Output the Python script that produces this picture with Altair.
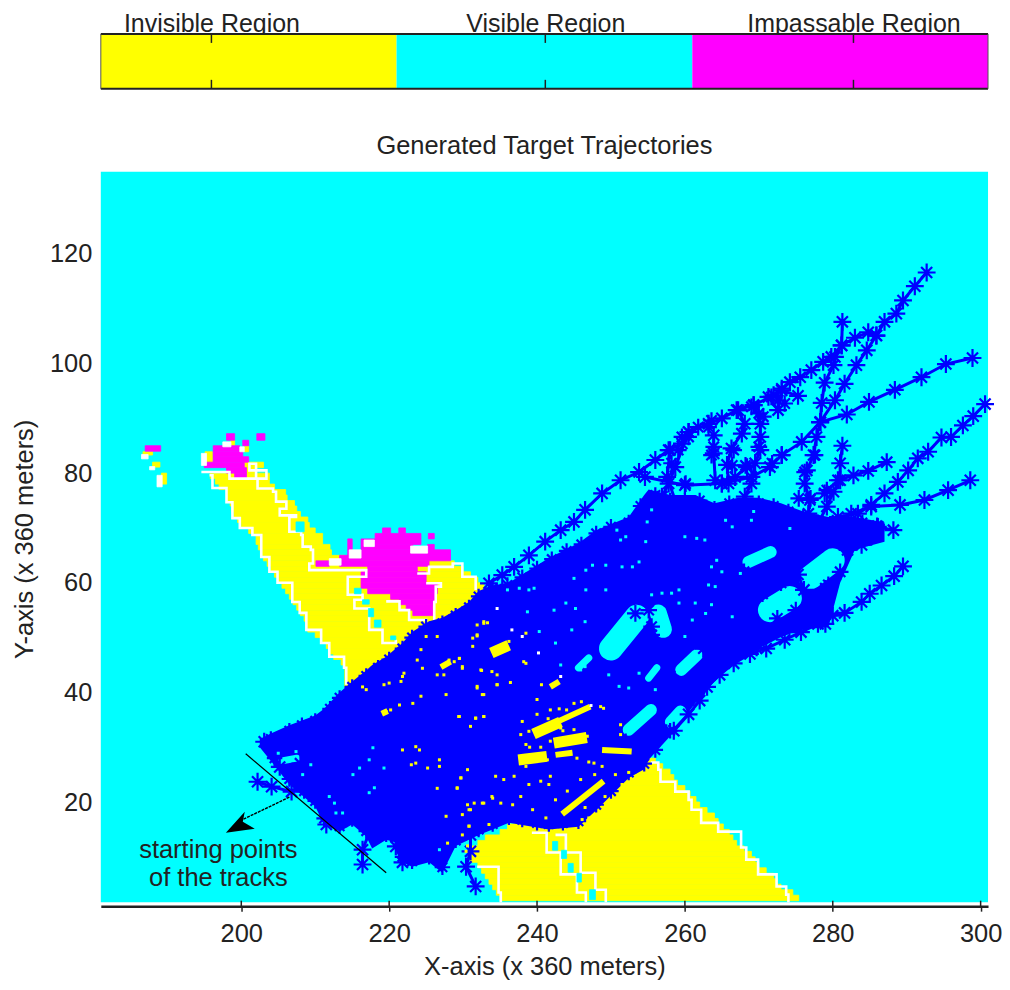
import altair as alt
import pandas as pd

FONT = "Liberation Sans"
INK = "#222222"
CYAN = "#00ffff"
YELLOW = "#ffff00"
MAGENTA = "#ff00ff"
BLUE = "#0000ff"

# colour bar
REGION_NAMES = ["Invisible Region", "Visible Region", "Impassable Region"]
REGION_COLORS = [YELLOW, CYAN, MAGENTA]
REGION_START = [0, 1, 2]
REGION_STOP = [1, 2, 3]
REGION_TICKS = [0.374, 1.503, 2.545]

# axes
X_TICKS = [200, 220, 240, 260, 280, 300]
Y_TICKS = [20, 40, 60, 80, 100, 120]

# yellow cells: row (bottom y), left x, right x
ARM_ROWS = [
    (81, 200.4, 203), (80, 200.7, 202), (79, 195.8, 203.8), (78, 196.5, 203.8), (77, 197, 204.5),
    (76, 198, 206), (75, 198, 206.2), (74, 198.5, 207.2), (73, 198.7, 207.5), (72, 199, 208),
    (71, 199.5, 209), (70, 200, 209.2), (69, 201, 210), (68, 202, 211), (67, 202, 211),
    (66, 202.3, 212), (65, 202.7, 212.2), (64, 203, 214), (63, 203.5, 228.8), (62, 204, 230),
    (61, 204.5, 231), (60, 205, 232), (59, 205.5, 232.8), (58, 206, 233.5), (57, 206.5, 234),
    (56, 207, 235), (55, 207.5, 235), (54, 208, 235), (53, 208.5, 235), (52, 208.8, 235),
    (51, 209, 235), (50, 210, 235), (49, 211, 235), (48, 211.5, 235), (47, 212, 235),
    (46, 212.5, 235), (45, 213.5, 235), (44, 214, 235), (43, 214, 235), (42, 214, 235), (41, 214, 235),
]
SOUTH_ROWS = [
    (28, 254, 255), (27, 250, 256), (26, 248, 257), (25, 246, 258), (24, 244.5, 258.5),
    (23, 244, 259), (22, 243, 260), (21, 242, 260.7), (20, 241, 261.5), (19, 240, 262),
    (18, 239.5, 263), (17, 238.5, 264), (16, 237, 264.5), (15, 236, 265.2), (14, 235, 266),
    (13, 233, 266.5), (12, 232, 267), (11, 231, 268), (10, 231, 269), (9, 231, 269.5),
    (8, 232, 270), (7, 232.5, 271), (6, 233, 272), (5, 233.5, 272.5), (4, 234, 273),
    (3, 234.5, 274.6), (2, 235, 275.4),
]
# small cells: x0, x1, y0, y1
YELLOW_CELLS = [
    (186.7, 188, 83.3, 83.9), (188, 189, 81.1, 82), (189.2, 189.9, 78, 80), (195.1, 196.1, 82, 83.9),
    (198.6, 199.1, 85, 86), (200.4, 201, 83.9, 84.9), (220.2, 221.1, 56.9, 57.9),
]
MAGENTA_CELLS = [
    (198, 199.1, 86, 87.2), (202.1, 203.2, 86, 87.2), (200.2, 201, 85, 86), (187, 189.1, 84, 85),
    (196.2, 199.8, 84, 85), (196.2, 200.2, 83, 84), (196.2, 201, 82, 83), (195, 200.4, 81, 82),
    (198, 200.7, 80, 81), (199.1, 200.7, 79, 80),
    (219.1, 220.2, 69, 70), (221.3, 222.2, 69, 70), (218.1, 224.3, 68, 69), (225.3, 226.1, 68, 69),
    (214.4, 215, 67, 68), (216.2, 224.3, 67, 68), (214.4, 215, 66, 67), (216.2, 223.2, 66, 67),
    (225.2, 226.1, 66, 67), (214.4, 215, 65, 66), (216.2, 228.3, 65, 66), (213.3, 228.3, 64, 65),
    (210.1, 211.9, 63, 64), (213.3, 225.4, 63, 64), (217.1, 223.8, 62, 63), (216.2, 225, 61, 62),
    (216.2, 225, 60, 61), (216.2, 226.5, 59, 60), (217.1, 226.5, 58, 59), (220.2, 226.3, 57, 58),
    (221.4, 226.1, 56, 57), (222.3, 225.9, 55, 56), (223.2, 225.9, 54, 55),
]
WHITE_CELLS = [
    (186.5, 187.4, 82.6, 83.4), (187.6, 188.3, 80.6, 81.2), (188.6, 189.3, 77.5, 79.6), (194.6, 195.3, 81.4, 83.6),
    (197.5, 198.6, 84.8, 85.7), (199.8, 200.4, 83.9, 84.8), (211.9, 213.5, 63.2, 64.4), (222.9, 225.2, 65.4, 66.7),
    (216.6, 218, 66.6, 67.8), (214.6, 216.2, 64.5, 66),
]
CYAN_CELLS = [
    (207.4, 208.5, 69.3, 71.1), (217.2, 217.9, 53.8, 55.3), (218, 218.9, 51.9, 53.2), (216.4, 217.3, 56.1, 56.9),
    (220.2, 220.9, 49.6, 50.3), (215.3, 216.2, 58, 59), (242.1, 242.8, 11.2, 12.8), (243.3, 244, 9.7, 11.2),
    (244.2, 244.9, 7.2, 8.8), (245.4, 246, 5.4, 7), (247.1, 247.9, 2.2, 4),
]

# white outlines of the regions
WHITE_LINES = {
    "west": [(195.7, 79.6), (196.1, 77.3), (198, 76.5), (198, 74.7), (198.8, 71.8), (199.8, 70), (201.5, 68.7),
             (202.7, 64.7), (203.8, 62), (204.9, 60), (206.9, 56.5), (207.9, 54.5), (208.8, 51.4), (210.8, 49),
             (211.9, 46.5), (213.9, 44.5), (214.2, 41.4)],
    "inner": [(194.6, 80.2), (198.4, 79), (200.4, 79), (202, 81.7), (201.1, 80.5), (203.4, 79), (202.2, 77.2),
              (204.3, 76.6), (204.7, 74.8), (206.1, 73.5), (205.2, 72.3), (207.4, 72), (206.5, 69.3), (208.1, 68.7),
              (208.3, 66.6), (209.4, 66), (209.7, 63.5), (209.2, 62.3), (216.9, 62.3), (216.9, 61.1), (214.4, 59.9),
              (214.4, 57.8), (216.4, 56.9), (215.3, 55.3), (217.3, 53.2), (217.3, 51.4), (219.1, 49), (220.9, 49.6)],
    "under": [(219.6, 56.6), (221.4, 55), (222.7, 53.2), (225, 52.6)],
    "east": [(223.8, 61.7), (225.4, 62.9), (228.6, 63.5), (229.9, 61.1), (231.7, 58.7)],
    "notch": [(225, 59.9), (227, 59.3), (226.3, 56.5), (226.1, 53.2)],
    "southeast": [(255.4, 27.2), (256.4, 25.9), (256.7, 23.7), (258.7, 21.9), (260.5, 20.4), (260.9, 18.6),
                  (262.2, 16.2), (264.5, 14.6), (267.6, 11.7), (268.3, 9.5), (269.9, 6.8), (272.4, 4.6),
                  (273.7, 3.1), (274, 1.7)],
    "chain_left": [(239.3, 14.4), (241.3, 10.8), (243.2, 6.8), (245.4, 3.5), (246.6, 1.7)],
    "chain_right": [(242.5, 14), (243.9, 10.8), (245.9, 7.1), (247.9, 4), (249.3, 1.7)],
    "southwest": [(231.9, 8.2), (234.8, 3.5), (235.1, 1.7)],
}

# solid mass of overlapping tracks: x, upper y, lower y
MASS_X = [202.5, 204, 206.5, 210, 211.2, 213.3, 215, 216.9, 217.7, 219.6, 220.9, 221.8, 223.1, 225.4, 227.2, 229,
          230.8, 232.1, 234, 236.2, 238, 241.6, 245.6, 248, 252.4, 254.5, 255.1, 258, 261.4, 264, 267.2, 270, 273,
          276, 279.4, 281, 283, 287]
MASS_TOP = [31.5, 32.5, 34, 35.8, 37, 40, 42, 44, 45, 46.5, 48, 49, 51, 53, 53.6, 55,
            56.5, 58.5, 59.5, 60, 61.5, 64.5, 67.2, 69.6, 72, 76, 77, 76, 76, 74.5, 75.5, 75.5, 74.5,
            73, 72, 72, 72, 71]
MASS_BOTTOM = [30, 27.5, 23.2, 19.2, 15.9, 14.6, 15.9, 13.7, 11.5, 13.1, 12.6, 9, 8.2, 9, 7.1, 12,
               13.1, 14, 15, 16.2, 15.8, 15, 15.5, 18.5, 24.4, 26, 27.7, 32, 38, 42, 45.9, 48, 50.1,
               51.5, 51.9, 60, 66, 67.5]

# gaps in the mass: x0, y0, x1, y1
HUGE_GAPS = [(250, 48, 253.5, 53.8), (277, 61, 280, 64.1), (271.5, 55, 274.2, 57.2)]
WIDE_GAPS = [(256.4, 54.5, 257.1, 51.5)]
MEDIUM_GAPS = [(259.5, 44.1, 261.6, 46.8), (252.4, 33.2, 255.4, 36.8), (258.1, 34.6, 259.4, 36.5),
               (268.6, 63.8, 271.6, 65.6)]
NARROW_GAPS = [(255.1, 42.6, 256.2, 44.5), (245.6, 44.5, 247, 46.3), (205.5, 27.5, 207.5, 28)]

# yellow bands showing through the mass: x0, y0, x1, y1
THICK_BANDS = [(240.2, 32.8, 242.5, 34.2), (243, 30.9, 246, 31.6), (238.2, 27.8, 240.6, 28.2), (234.5, 47.6, 235.5, 48.2)]
THIN_BANDS = [(243, 34.8, 247.2, 37.4), (242.5, 28.6, 244.8, 29), (241.8, 41, 243, 42), (248.8, 29.5, 252.8, 29.2),
              (243.4, 17.8, 249, 23.8), (227, 44.6, 228.3, 45.6), (219, 36.1, 219.8, 36.6)]

# tracks
TRACKS = {
    "a": [(292.7, 116.6), (291.1, 114.1), (289.5, 111.5), (288.6, 109.1), (287, 107.6), (285.9, 105.1), (284.8, 105.7),
          (283, 104.7), (281.2, 103.3), (279.8, 101.2), (278.7, 100.3), (277.1, 98.8), (275.6, 97.5), (274.2, 96.6),
          (273.1, 95.4), (272, 94.2), (269.3, 92.4), (267, 91.5), (265, 90), (263.2, 89), (260.5, 87.5), (259.6, 85.4),
          (257.8, 84.2), (256, 82.4), (253.8, 80.2), (251.3, 78.7), (248.8, 76.3), (246.5, 73.3), (245, 71.1),
          (243.2, 69.6), (241.1, 67.5), (238.9, 65), (236.9, 62.9), (235.3, 61.4), (233.5, 59.9)],
    "b": [(281.3, 107.6), (281.2, 103.3), (280.3, 101.2), (280.1, 99.7), (278.9, 96.5), (278.5, 92.8), (278.3, 89.3),
          (277.8, 86.6), (277.4, 83.3), (276.5, 80.5), (276.2, 78.1), (276.9, 75.1), (276.7, 72.6)],
    "c": [(298.9, 101), (295.3, 99.9), (292, 97.5), (288.4, 95.2), (284.9, 93), (281.9, 90.7), (278.3, 89.3),
          (275.8, 85.7), (273.1, 83.3), (271.5, 81.1), (269, 79.3), (265, 78.1), (260, 77.8), (254.6, 79.3)],
    "d": [(300.6, 92.6), (299, 90.4), (297.6, 88.7), (296, 86.6), (294.7, 86.5), (292.9, 83.9), (291.5, 82.7),
          (290.2, 80.5), (288.8, 78.4), (287, 76.3), (285.2, 74.2), (283.4, 72.6), (280.7, 72), (278.5, 70.2)],
    "e": [(298.6, 78.7), (295.6, 76.9), (292.4, 75.1), (289.1, 74.2), (285.2, 73.9), (282.5, 72.6)],
    "f": [(288.2, 69.6), (286.1, 70.2), (285.2, 68.4), (283.9, 66.9), (282, 66)],
    "g": [(281.3, 85), (281, 81.8), (281, 78.7), (280.1, 76.6), (279.2, 73.9), (278, 70.8)],
    "h": [(287.3, 82), (284.8, 80.4), (282.8, 79.6), (280.7, 78.7), (278.9, 76.3)],
    "i": [(285.9, 105.1), (284.6, 102.4), (283.2, 99.7), (281.6, 96.3), (280.3, 93.3), (278.3, 89.3)],
    "k": [(275.3, 94.1), (273.1, 95.1), (272.6, 91.5), (271.3, 93.9)],
    "l": [(269.3, 92.4), (270.2, 89), (270.2, 86.6), (270.2, 84.2), (269.5, 81.8), (269, 78.1), (268.1, 75.7)],
    "m": [(267.2, 91.5), (268.1, 89), (267.7, 87.2), (266.3, 84.5), (265.7, 81.5), (265.9, 78.1)],
    "n": [(263.9, 86.9), (263.9, 83.6), (264.1, 78.7)],
    "o": [(268.4, 81.1), (266.8, 79.3), (265, 78.1)],
    "r": [(258, 84.2), (257.6, 79.3), (258.9, 74.2)],
    "s": [(260.5, 87.5), (258.7, 81.1), (257.8, 78.1), (256.9, 75.7)],
    "p": [(289.5, 63), (288.3, 61.2), (286.6, 59.5), (285, 58), (283.9, 56.5), (281.6, 54.5), (280, 54), (278, 52.5),
          (275.7, 51), (273.5, 49.6), (271, 48), (268.8, 47), (266.6, 45.3), (264.7, 43.2), (263, 41), (262, 38.5),
          (260.5, 36), (258.5, 33)],
    "q": [(279, 52.5), (277.3, 55.5), (276.1, 58.7), (275.3, 61.5), (274, 64)],
    "start_1": [(202.2, 23.7), (204.1, 22.8), (206.8, 21.9), (209, 23)],
    "start_2": [(203.1, 31), (205.2, 26.4), (208, 27)],
    "start_3": [(211.5, 15.9), (213, 17)],
    "start_4": [(216.4, 8.6), (216.4, 11.3), (217.5, 15)],
    "start_5": [(221.8, 9), (220.9, 11.9), (222, 15)],
    "start_6": [(231.7, 4.6), (230.4, 8.2), (231, 11), (231, 14)],
}
EDGE_TOP = [(204, 31.5), (206.5, 33), (208.2, 34), (210, 34.8), (212, 37), (213.3, 39), (215, 41), (216.9, 43), (218.5, 44.5),
            (220, 46), (221.8, 48), (223.1, 50), (225, 52), (227.2, 52.6), (229, 54), (230.8, 55.5), (232.1, 57.5),
            (234, 59), (236, 59.6), (238, 61), (240, 62.6), (242, 64.3), (244, 65.8), (246, 67), (248, 69), (250, 70.2),
            (252.4, 71), (254, 74), (256, 76), (258, 75), (260, 75), (262, 75), (264, 73.5), (266, 74.5), (268, 74.5),
            (270, 74.5), (272, 74), (274, 73), (276, 72), (278, 71), (280, 71), (282, 71), (284, 71), (286, 70.5)]
EDGE_BOTTOM = [(204.5, 28), (206.5, 24.2), (208.5, 22), (210, 20.2), (211.2, 17), (213.3, 15.6), (215, 16.9), (216.9, 14.7),
               (219.6, 14.1), (220.9, 13.6), (221.8, 10), (223.1, 9.2), (225.4, 10), (227.2, 8.1), (229, 13),
               (232.1, 15), (234, 16), (236.2, 17.2), (238, 16.8), (240, 16.2), (241.6, 16), (243.5, 16.2), (245.6, 16.5),
               (248, 19.5), (250, 22), (252.4, 25.4), (254.5, 27), (256, 29.5), (258, 33)]
LOOSE_STARS = [(263.9, 84.8), (266.6, 84.2), (270, 84.8), (273.1, 83.3), (277.6, 83.3), (276.2, 80.2), (279.2, 76.9), (277, 75.4),
               (275.4, 75.4), (260.1, 78.1), (258.9, 74.5), (266.4, 81.4), (268.2, 81.4), (271.8, 81.8), (263.6, 83.3),
               (276.7, 55.9), (279.4, 59.6), (269.7, 48.1), (266.4, 49), (255.5, 52), (255.1, 55),
               (253.3, 54.4), (248.3, 52), (250.5, 56.2), (253, 47), (255.5, 50.5), (275.5, 64), (278, 66.5), (281, 62),
               (279, 59), (270.5, 58), (273, 60), (275, 55), (272.5, 53.5), (258.5, 48.5), (262.5, 48), (258, 43), (262, 43.5),
               (251, 38), (256.5, 34), (252, 31), (257, 38.5), (260.5, 38.5), (268, 62), (272.5, 63.5), (270, 67.5),
               (260.5, 86.6), (261.8, 88.4), (263.2, 88.4), (263.6, 89.6), (259.6, 86.6), (259.1, 84.2), (258.2, 81.8),
               (272.6, 93.3), (273.5, 92.7), (271.7, 93.9), (270, 90.9), (270.6, 90.3), (269, 92.1)]

YELLOW_SPECKS = [
    (231.3, 48.4), (232.8, 52.6), (231.9, 50.5), (233.3, 52.7), (236.2, 49.3), (238.5, 45.3), (238.5, 50.8), (238.2, 45.6),
    (233.9, 43.8), (234.6, 43.2), (232.5, 44), (228.8, 45.6), (229.5, 46.2), (229.9, 44.7), (231.9, 40.8), (234.6, 41.4),
    (236.4, 41.8), (232.8, 39.6), (240.6, 41.4), (240, 38.7), (241.8, 36.8), (238, 34.7), (231.7, 35.3), (232.8, 35.6),
    (229.4, 35.6), (231, 33.8), (238.9, 32.9), (237.8, 32.3), (238.5, 30.5), (241.8, 31.1), (248.6, 37.4), (249, 37.1),
    (243.2, 33.5), (251.3, 34.1), (251.3, 32.3), (247.7, 27.1), (247, 27.3), (245.4, 28), (241.4, 27.7), (238.5, 26.5),
    (230.6, 25.9), (234.4, 24.7), (235.5, 24.1), (236.9, 24.7), (229.7, 24.4), (229.2, 22.6), (238.9, 23.2), (240.5, 23.8),
    (241.8, 24.7), (241.6, 23.2), (233.9, 21), (232.6, 19.8), (235.1, 19.8), (236.7, 19.5), (230.8, 18.6), (239.4, 18.6),
    (237.8, 21), (230.8, 15.6), (233.5, 15.9), (229.9, 14), (244.1, 22), (245.9, 24.1), (242.5, 20.4), (252.4, 25.4),
    (251.5, 23.2), (250.6, 25), (247, 17.1), (246.1, 16.8), (241.2, 17.1), (230.6, 12), (230.4, 11),
    (231.9, 52.3), (232.8, 52.9), (231.3, 49.9), (231.9, 50.3), (225, 50.2), (226.5, 50.2), (224.3, 47.8), (223.8, 45.9),
    (224.5, 44.4), (228.1, 45.9), (229.5, 46.2), (229.9, 44.4), (232.4, 44.1), (226.5, 43.2), (227.4, 43.2), (221.8, 42.9),
    (222, 43.5), (219.3, 41.4), (220, 41.7), (216.9, 40.5), (216.4, 41), (221.6, 42), (231.9, 41.1), (234.6, 41.4),
    (232.6, 39.6), (227.7, 39.6), (224.3, 39.3), (221.4, 37.7), (223.2, 38), (219.6, 36.5), (220.2, 36.8), (229.5, 35.6),
    (231.7, 35.3), (232.8, 35.6), (221.8, 29.5), (223.6, 30.1), (224.1, 29.5), (223, 26.8), (223.6, 27.1), (225.2, 26.2),
    (226.8, 26.5), (226.8, 27.7), (229.7, 24.4), (226.5, 22.5), (229.2, 22.5), (230.6, 19.5), (231.5, 19.8), (232.8, 19.8),
    (234, 20.7), (231, 18.6), (229.9, 17.7), (227.7, 17.4), (230.8, 15.6), (227.9, 12.5),
    (244, 36.8), (245, 38), (246, 38.3), (243, 37), (240, 36), (241.5, 35.2), (243.5, 33), (245, 33.2), (246.8, 32),
    (239, 30), (240.5, 30), (247.8, 25), (248.8, 26.5), (249.2, 21), (246.5, 19),
]
CYAN_SPECKS = [
    (217.3, 21.7), (218, 22.6), (217.8, 29.9), (217.3, 27.7), (216, 26.2), (215.1, 25), (219.3, 26.2), (213.7, 18), (212.8, 18),
    (211.9, 21), (212.6, 19.8), (209.4, 26.8), (208.3, 25), (207.4, 29.2), (205, 28.9), (226.8, 11.3),
    (243.9, 56.3), (242.3, 55), (238.7, 54.7), (245.2, 55.3), (246.5, 52.9), (244.7, 51.4), (240.3, 51.1), (242.5, 49),
    (246.5, 44.7), (245.9, 44.1), (243.2, 45), (249.7, 43.2), (251.1, 41.1), (253.8, 43.5), (252.4, 40.8), (256, 40.5),
    (252.9, 50.2), (260, 50.2), (261, 53.2), (262.8, 54.4), (259.2, 56.3), (258.2, 58.1), (259.2, 58.7), (261.4, 56.3),
    (263.6, 56), (266.4, 53.8), (263.2, 59.6), (264.1, 59.3), (263.6, 62.9), (265, 62), (267.5, 61.7), (264.3, 64.1),
    (266.4, 70.2), (269, 71.4), (269.3, 73), (265.5, 71.4), (274.2, 69.9), (261.6, 68.1), (260, 68.4), (262.7, 67.8),
    (254.7, 67.5), (252, 68.4), (251.3, 67.8), (250.8, 69.6), (255.5, 73.3), (254.9, 71.1), (251.5, 62.9), (252.9, 62.9),
    (253.8, 63.8), (249.3, 63.2), (247.5, 63.2), (246.6, 62.3), (245, 60.8), (239.6, 59), (237.6, 59), (236, 58.7),
    (238.9, 58.7), (246.6, 58.7), (249.3, 58.7), (255.5, 57.8), (256.9, 58.1),
]
WHITE_SPECKS = [(234.6, 55.3), (238, 50.2), (236.6, 51.4), (240.2, 47.2), (243.2, 42.9), (247.3, 37.6)]

# annotation
CUT_LINE = [(200.6, 28.8), (219.6, 7.1)]
ARROW_SHAFT = [(206.5, 20.9), (200.2, 16.8)]
ARROW_HEAD = [(199.8, 16.4)]
NOTE_LINES = ["starting points", "of the tracks"]
NOTE_X = [196.9, 196.9]
NOTE_Y = [11.3, 6.2]

x_scale = alt.Scale(domain=[181, 301], nice=False, zero=False)
y_scale = alt.Scale(domain=[1, 135], nice=False, zero=False)
x_axis = alt.Axis(values=X_TICKS, grid=False, format="d", tickSize=5, tickColor="#222", domainColor="#222",
                  domainWidth=2.5, tickWidth=1.5, labelPadding=10, titlePadding=8, title="X-axis (x 360 meters)")
y_axis = alt.Axis(values=Y_TICKS, grid=False, format="d", tickSize=0, domain=False, labelPadding=9, titlePadding=12,
                  title="Y-axis (x 360 meters)")
X = lambda: alt.X("x:Q", scale=x_scale, axis=x_axis)
Y = lambda: alt.Y("y:Q", scale=y_scale, axis=y_axis)


def rows_df(rows):
    return pd.DataFrame([dict(x=a, x2=b, y=r, y2=r + 1) for r, a, b in rows])


def cells_df(cells):
    return pd.DataFrame([dict(x=a, x2=b, y=c, y2=d) for a, b, c, d in cells])


def segs_df(segs):
    return pd.DataFrame([dict(x=a, y=b, x2=c, y2=d) for a, b, c, d in segs])


def paths_df(paths):
    return pd.DataFrame([dict(id=k, i=i, x=p[0], y=p[1]) for k, v in paths.items() for i, p in enumerate(v)])


def pts_df(points):
    return pd.DataFrame([dict(x=p[0], y=p[1]) for p in points])


def rects(df, color):
    return alt.Chart(df).mark_rect(color=color, stroke=color, strokeWidth=0.8).encode(
        x=X(), x2="x2:Q", y=Y(), y2="y2:Q")


def gaps(segs, color, width, cap="round"):
    return alt.Chart(segs_df(segs)).mark_rule(color=color, strokeWidth=width, strokeCap=cap).encode(
        x=X(), x2="x2:Q", y=Y(), y2="y2:Q")


def specks(points, color):
    return alt.Chart(pts_df(points)).mark_square(color=color, size=9, opacity=1).encode(x=X(), y=Y())


STAR = "M-1,0L1,0M0,-1L0,1M-0.62,-0.62L0.62,0.62M-0.62,0.62L0.62,-0.62"
HEAD = "M-0.93,0.73L0.33,-0.67L0.2,0L1,0.47Z"

background = alt.Chart(pd.DataFrame({"x": [181], "x2": [301], "y": [1.7], "y2": [135]})).mark_rect(color=CYAN).encode(
    x=X(), x2="x2:Q", y=Y(), y2="y2:Q")

track_df = paths_df(TRACKS)
edge_df = paths_df({"top": EDGE_TOP, "bottom": EDGE_BOTTOM})
mass_df = pd.DataFrame({"x": MASS_X, "y": MASS_TOP, "y2": MASS_BOTTOM})

layers = [
    background,
    rects(rows_df(ARM_ROWS + SOUTH_ROWS), YELLOW),
    rects(cells_df(YELLOW_CELLS), YELLOW),
    rects(cells_df(MAGENTA_CELLS), MAGENTA),
    alt.Chart(paths_df(WHITE_LINES)).mark_line(color="white", strokeWidth=2.6, interpolate="step-after").encode(
        x=X(), y=Y(), detail="id:N", order="i:Q"),
    rects(cells_df(WHITE_CELLS), "white"),
    rects(cells_df(CYAN_CELLS), CYAN),
    alt.Chart(mass_df).mark_area(color=BLUE, opacity=1).encode(x=X(), y=Y(), y2="y2:Q"),
    gaps(HUGE_GAPS, CYAN, 24),
    gaps(WIDE_GAPS, CYAN, 17),
    gaps(MEDIUM_GAPS, CYAN, 12),
    gaps(NARROW_GAPS, CYAN, 7),
    alt.Chart(track_df).mark_line(color=BLUE, strokeWidth=3).encode(x=X(), y=Y(), detail="id:N", order="i:Q"),
    alt.Chart(track_df).mark_point(shape=STAR, size=320, color=BLUE, strokeWidth=2.2, opacity=1).encode(x=X(), y=Y()),
    alt.Chart(edge_df).mark_point(shape=STAR, size=240, color=BLUE, strokeWidth=2.2, opacity=1).encode(x=X(), y=Y()),
    alt.Chart(pts_df(LOOSE_STARS)).mark_point(shape=STAR, size=280, color=BLUE, strokeWidth=2.2, opacity=1).encode(x=X(), y=Y()),
    gaps(THICK_BANDS, YELLOW, 11, "square"),
    gaps(THIN_BANDS, YELLOW, 6, "butt"),
    specks(YELLOW_SPECKS, YELLOW),
    specks(CYAN_SPECKS, CYAN),
    specks(WHITE_SPECKS, "white"),
    alt.Chart(pd.DataFrame({"x": X_TICKS, "y": [1] * len(X_TICKS), "y2": [2] * len(X_TICKS)})).mark_rule(
        color="#222", strokeWidth=1.5).encode(x=X(), y=Y(), y2="y2:Q"),
    alt.Chart(pd.DataFrame({"x": [CUT_LINE[0][0]], "y": [CUT_LINE[0][1]], "x2": [CUT_LINE[1][0]], "y2": [CUT_LINE[1][1]]}))
    .mark_rule(color="black", strokeWidth=1.2).encode(x=X(), x2="x2:Q", y=Y(), y2="y2:Q"),
    alt.Chart(pd.DataFrame({"x": [ARROW_SHAFT[0][0]], "y": [ARROW_SHAFT[0][1]], "x2": [ARROW_SHAFT[1][0]], "y2": [ARROW_SHAFT[1][1]]}))
    .mark_rule(color="black", strokeWidth=1.4, strokeDash=[3, 1]).encode(x=X(), x2="x2:Q", y=Y(), y2="y2:Q"),
    alt.Chart(pts_df(ARROW_HEAD)).mark_point(shape=HEAD, size=900, color="black", filled=True, opacity=1).encode(x=X(), y=Y()),
    alt.Chart(pd.DataFrame({"x": NOTE_X, "y": NOTE_Y, "t": NOTE_LINES})).mark_text(
        font=FONT, fontSize=25.5, color=INK, align="center", baseline="middle").encode(x=X(), y=Y(), text="t:N"),
]

main = alt.layer(*layers).properties(
    width=889, height=736,
    title=alt.TitleParams("Generated Target Trajectories", font=FONT, fontSize=25.5, fontWeight="normal", color=INK,
                          offset=12),
)

# colour bar panel
bar_x = alt.Scale(domain=[0, 3], nice=False, zero=False)
bar_axis = alt.Axis(orient="top", values=REGION_TICKS, tickSize=0, domain=False, grid=False, labelPadding=-3, title=None,
                    labelLimit=0, labelFontSize=25,
                    labelExpr="datum.value < 1 ? 'Invisible Region' : datum.value < 2 ? 'Visible Region' : 'Impassable Region'")
BX = lambda f: alt.X(f"{f}:Q", scale=bar_x, axis=bar_axis)
bar_df = pd.DataFrame({"name": REGION_NAMES, "a": REGION_START, "b": REGION_STOP, "c": REGION_COLORS})
ticks_df = pd.DataFrame({"a": REGION_TICKS})
edge_bar = pd.DataFrame({"a": [0], "b": [3]})
side_bar = pd.DataFrame({"a": [0, 3]})
bar_fill = alt.Chart(bar_df).mark_rect().encode(
    x=BX("a"), x2="b:Q", y=alt.value(0), y2=alt.value(55), color=alt.Color("c:N", scale=None))
bar_ticks_top = alt.Chart(ticks_df).mark_rule(color="#222", strokeWidth=1.5).encode(
    x=BX("a"), y=alt.value(0), y2=alt.value(9))
bar_ticks_bottom = alt.Chart(ticks_df).mark_rule(color="#222", strokeWidth=1.5).encode(
    x=BX("a"), y=alt.value(46), y2=alt.value(55))
bar_edge = alt.Chart(edge_bar).mark_rule(color="#222", strokeWidth=2).encode(x=BX("a"), x2="b:Q", y=alt.value(0))
bar_edge2 = alt.Chart(edge_bar).mark_rule(color="#222", strokeWidth=2).encode(x=BX("a"), x2="b:Q", y=alt.value(55))
bar_sides = alt.Chart(side_bar).mark_rule(color="#555", strokeWidth=1).encode(x=BX("a"), y=alt.value(0), y2=alt.value(55))
bar = alt.layer(bar_fill, bar_ticks_top, bar_ticks_bottom, bar_edge, bar_edge2, bar_sides).properties(width=889, height=55)

chart = alt.vconcat(bar, main, spacing=44).properties(
    padding={"left": 4, "top": 3, "right": 0, "bottom": 0},
).configure_view(stroke=None).configure_axis(
    labelFont=FONT, titleFont=FONT, labelFontSize=25.5, titleFontSize=25.5, labelColor=INK, titleColor=INK,
    titleFontWeight="normal",
)

chart.save("out.html", embed_options={"renderer": "svg", "actions": False})
